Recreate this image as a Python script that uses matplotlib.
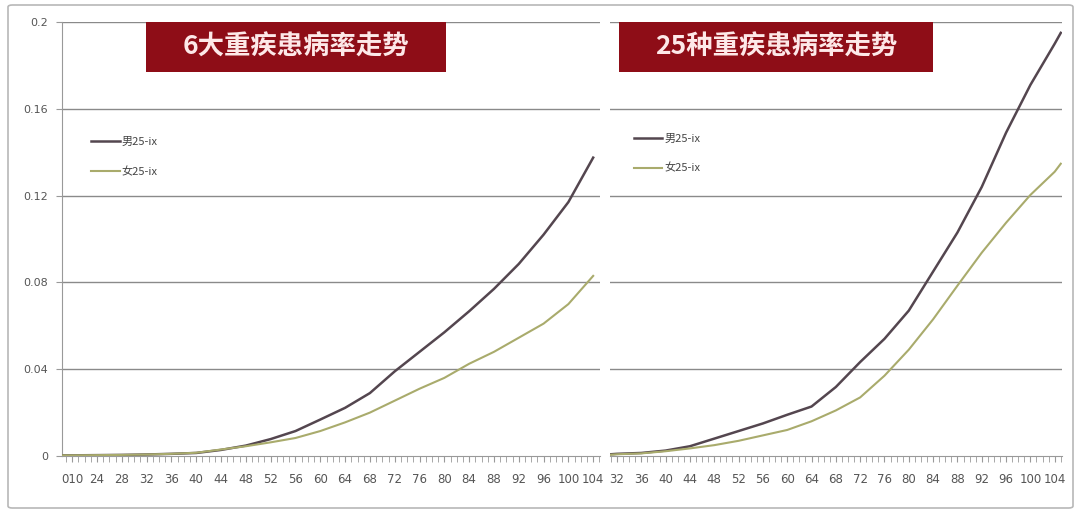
import matplotlib
matplotlib.use("Agg")
import matplotlib.pyplot as plt
from matplotlib.patches import Rectangle, FancyBboxPatch

plt.rcParams['font.family'] = ['Noto Sans CJK SC', 'DejaVu Sans']

# ---- data ----
titles = ["6大重疾患病率走势", "25种重疾患病率走势"]
series_names = ["男25-ix", "女25-ix"]

ages_left = [18, 20, 24, 28, 32, 36, 40, 44, 48, 52, 56, 60, 64, 68, 72, 76, 80, 84, 88, 92, 96, 100, 104]
male_left = [0.0003, 0.0003, 0.0004, 0.0005, 0.0007, 0.0010, 0.0014, 0.0028, 0.0048, 0.0078, 0.0115, 0.0168,
             0.0222, 0.0290, 0.0390, 0.0480, 0.0570, 0.0667, 0.0770, 0.0885, 0.1020, 0.1170, 0.1375]
female_left = [0.0003, 0.0003, 0.0004, 0.0005, 0.0007, 0.0010, 0.0015, 0.0030, 0.0045, 0.0063, 0.0083, 0.0115,
               0.0155, 0.0200, 0.0255, 0.0310, 0.0360, 0.0425, 0.0480, 0.0545, 0.0610, 0.0700, 0.0830]

ages_right = [31, 32, 36, 40, 44, 48, 52, 56, 60, 64, 68, 72, 76, 80, 84, 88, 92, 96, 100, 104, 105]
male_right = [0.0008, 0.0010, 0.0014, 0.0025, 0.0045, 0.0080, 0.0115, 0.0150, 0.0190, 0.0228, 0.0318,
              0.0433, 0.0540, 0.0670, 0.0850, 0.1030, 0.1240, 0.1490, 0.1710, 0.1900, 0.1950]
female_right = [0.0006, 0.0008, 0.0012, 0.0022, 0.0035, 0.0050, 0.0070, 0.0095, 0.0120, 0.0160, 0.0210,
                0.0270, 0.0370, 0.0490, 0.0630, 0.0785, 0.0937, 0.1075, 0.1203, 0.1310, 0.1347]

ticks_left = list(range(20, 105, 4))
ticklabels_left = ["010"] + [str(a) for a in ticks_left[1:]]
ticks_right = list(range(32, 105, 4))
ticklabels_right = [str(a) for a in ticks_right]
yticks = [0, 0.04, 0.08, 0.12, 0.16, 0.2]
yticklabels = ["0", "0.04", "0.08", "0.12", "0.16", "0.2"]

male_color = "#54464f"
female_color = "#a9ab6c"
grid_color = "#8a8a8a"
title_bg = "#8e0d17"

W, H = 1080, 513
fig = plt.figure(figsize=(W / 100, H / 100), dpi=100)

def fx(px):
    return px / W

def fy(py):
    return 1 - py / H

# outer frame
fig.patches.append(FancyBboxPatch((fx(8), fy(508)), fx(1065), (508 - 5) / H,
                                  boxstyle="round,pad=0,rounding_size=0.004",
                                  transform=fig.transFigure, facecolor="none",
                                  edgecolor="#b8b8b8", linewidth=1.2, zorder=-1))

ax1 = fig.add_axes([fx(62), fy(456), fx(538), 434 / H])
ax2 = fig.add_axes([fx(610), fy(456), fx(452), 434 / H])

panels = [
    (ax1, ages_left, male_left, female_left, (18.35, 105.1), ticks_left, ticklabels_left, range(19, 106)),
    (ax2, ages_right, male_right, female_right, (30.85, 105.2), ticks_right, ticklabels_right, range(31, 106)),
]

for i, (ax, ages, m, f, xl, tks, tkl, minor) in enumerate(panels):
    ax.set_facecolor("none")
    ax.plot(ages, m, color=male_color, lw=1.8, label=series_names[0], zorder=3,
            solid_joinstyle="round")
    ax.plot(ages, f, color=female_color, lw=1.5, label=series_names[1], zorder=3,
            solid_joinstyle="round")
    ax.set_xlim(*xl)
    ax.set_ylim(0, 0.2)
    ax.set_yticks(yticks)
    for y in yticks[1:]:
        ax.axhline(y, color=grid_color, lw=1.0, zorder=1)
    ax.set_xticks(tks)
    ax.set_xticklabels(tkl, fontsize=8.5, color="#555555", family="DejaVu Sans")
    ax.set_xticks(list(minor), minor=True)
    ax.tick_params(axis="x", which="both", length=4, color="#999999", pad=8, direction="out")
    for s in ["top", "right"]:
        ax.spines[s].set_visible(False)
    ax.spines["bottom"].set_color("#999999")
    if i == 0:
        ax.set_yticklabels(yticklabels, fontsize=8, color="#555555", family="DejaVu Sans")
        ax.tick_params(axis="y", length=4, color="#999999", pad=6)
        ax.spines["left"].set_color("#999999")
    else:
        ax.set_yticklabels([])
        ax.tick_params(axis="y", length=0)
        ax.spines["left"].set_visible(False)
    leg = ax.legend(loc="upper left",
                    bbox_to_anchor=(0.035 if i == 0 else 0.03, 0.758 if i == 0 else 0.765),
                    frameon=False, handlelength=2.6, handletextpad=0.2, labelspacing=1.75,
                    prop={"size": 8})
    for t in leg.get_texts():
        t.set_color("#444444")

# title boxes
boxes = [(146, 446), (619, 933)]
for (x0, x1), t in zip(boxes, titles):
    fig.patches.append(Rectangle((fx(x0), fy(72)), fx(x1 - x0), 50 / H, transform=fig.transFigure,
                                 facecolor=title_bg, edgecolor="none", zorder=5))
    fig.text(fx((x0 + x1) / 2), fy(47), t, ha="center", va="center", fontsize=19,
             fontweight="bold", color="#fde8e8", zorder=6)

fig.savefig("out.png", dpi=100)
